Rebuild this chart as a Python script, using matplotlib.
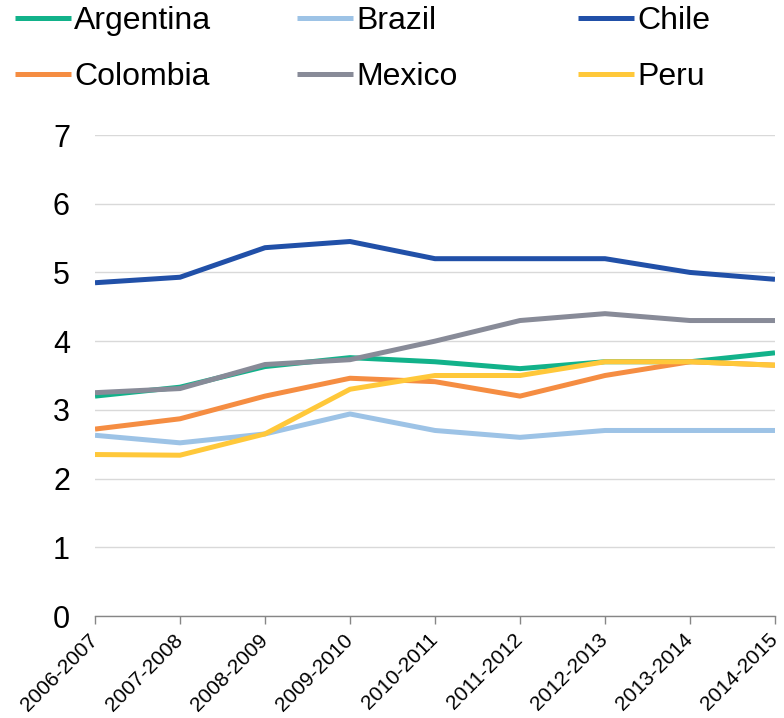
import matplotlib
matplotlib.use("Agg")
import matplotlib.pyplot as plt

plt.rcParams['font.family'] = ['Liberation Sans', 'DejaVu Sans']

periods = ["2006-2007", "2007-2008", "2008-2009", "2009-2010", "2010-2011",
           "2011-2012", "2012-2013", "2013-2014", "2014-2015"]
argentina = [3.20, 3.33, 3.63, 3.76, 3.70, 3.60, 3.70, 3.70, 3.83]
brazil    = [2.63, 2.52, 2.65, 2.94, 2.70, 2.60, 2.70, 2.70, 2.70]
chile     = [4.85, 4.93, 5.36, 5.45, 5.20, 5.20, 5.20, 5.00, 4.90]
colombia  = [2.72, 2.87, 3.20, 3.46, 3.41, 3.20, 3.50, 3.70, 3.65]
mexico    = [3.25, 3.31, 3.66, 3.73, 4.00, 4.30, 4.40, 4.30, 4.30]
peru      = [2.35, 2.34, 2.65, 3.30, 3.50, 3.50, 3.70, 3.70, 3.65]

series = [("Argentina", argentina, "#12B28A"),
          ("Brazil", brazil, "#9DC3E6"),
          ("Chile", chile, "#2150A8"),
          ("Colombia", colombia, "#F58D42"),
          ("Mexico", mexico, "#888B98"),
          ("Peru", peru, "#FFC83A")]

fig = plt.figure(figsize=(7.84, 7.18), dpi=100)
ax = fig.add_axes([95/784, 1-616/718, 680/784, 481/718])

x = list(range(len(periods)))
handles = []
for name, vals, col in series:
    h, = ax.plot(x, vals, color=col, lw=3.6, label=name, solid_capstyle='butt', zorder=3)
    handles.append(h)

ax.set_xlim(0, len(periods)-1)
ax.set_ylim(0, 7)
ax.set_yticks(range(0, 8))
ax.yaxis.grid(True, color="#D9D9D9", lw=1.0)
ax.set_axisbelow(True)
for s in ["left", "right", "top"]:
    ax.spines[s].set_visible(False)
ax.spines["bottom"].set_color("#868686")
ax.spines["bottom"].set_linewidth(1.0)
ax.tick_params(axis='y', length=0, pad=18, labelsize=22)
ax.tick_params(axis='x', length=6, color="#868686", width=1.0, pad=9, labelsize=15)
ax.set_xticks(x)
ax.set_xticklabels(periods, rotation=45, ha='right', va='center', rotation_mode='anchor')

colx = [15/784, 297/784, 578/784]
for i in range(3):
    leg = fig.legend([handles[i], handles[i+3]], [series[i][0], series[i+3][0]],
                     loc='upper left', bbox_to_anchor=(colx[i], 1.0 - 6/718), ncol=1,
                     frameon=False, fontsize=23, handlelength=1.75, handletextpad=0.1,
                     labelspacing=0.82, borderpad=0.0, borderaxespad=0.0)

fig.savefig("out.png", dpi=100)
